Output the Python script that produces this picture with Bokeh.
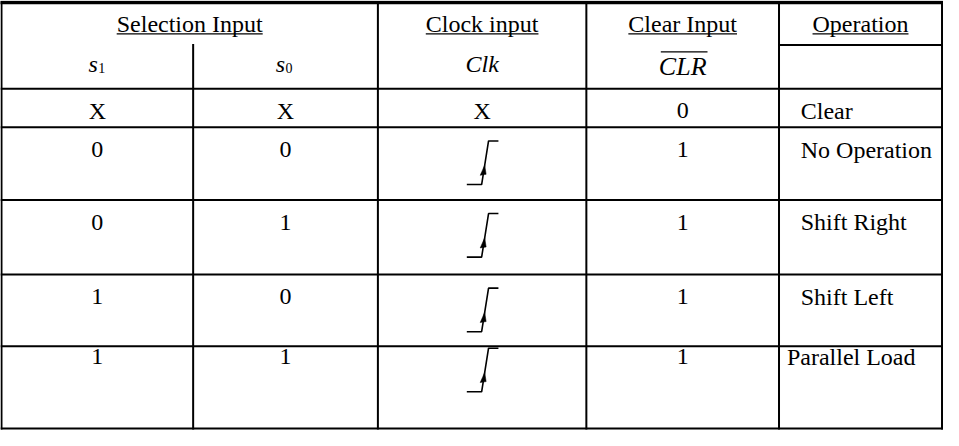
from bokeh.plotting import figure
from bokeh.models import Range1d, ColumnDataSource
from bokeh.embed import file_html
from bokeh.resources import INLINE
from bokeh.core.properties import value

# ---------------- data ----------------
group_headers = ["Selection Input", "Clock input", "Clear Input", "Operation"]
sub_headers = ["s", "s", "Clk", "CLR", ""]
sub_indices = ["1", "0"]
select_s1 = ["X", "0", "0", "1", "1"]
select_s0 = ["X", "0", "1", "0", "1"]
clock_input = ["X", "rise", "rise", "rise", "rise"]
clear_input = ["0", "1", "1", "1", "1"]
operation = ["Clear", "No Operation", "Shift Right", "Shift Left", "Parallel Load"]

# ---------------- layout (reference pixel space) ----------------
col_edges = [5, 199, 386, 597, 792, 957]
top_edge = 4
header_split = 48
row_edges = [93, 133, 208, 285, 359, 444]
row_shift = [0, 0, 0, 0, -12]      # last row content sits higher
op_left = [814, 814, 814, 814, 800]
FONT = value("Liberation Serif")
FS = "24px"
DY = -7                            # baseline correction for text rendering

# Liberation Serif advance widths (em) for header underlines
W = {'S': .556, 'e': .444, 'l': .278, 'c': .444, 't': .278, 'i': .278, 'o': .5,
     'n': .5, ' ': .25, 'I': .333, 'p': .5, 'u': .5, 'C': .667, 'k': .5,
     'a': .444, 'r': .333, 'O': .722}
XS = 943 / (958.5 - 4)   # px per data unit (x)


def text_w(s, size=24):
    return sum(W.get(ch, .5) for ch in s) * size / XS


p = figure(width=943, height=430, x_range=Range1d(4, 958.5), y_range=Range1d(446, 2),
           output_backend="svg", toolbar_location=None, min_border=0)
p.axis.visible = False
p.grid.visible = False
p.outline_line_color = None
p.background_fill_color = "white"
p.border_fill_color = "white"

# ---------------- rules ----------------
hx0, hy0, hx1, hy1 = [], [], [], []
for y in row_edges:
    hx0.append(col_edges[0]); hx1.append(col_edges[-1]); hy0.append(y); hy1.append(y)
hx0.append(col_edges[4]); hx1.append(col_edges[5]); hy0.append(header_split); hy1.append(header_split)
for i, x in enumerate(col_edges):
    y_start = header_split if i == 1 else top_edge
    hx0.append(x); hx1.append(x); hy0.append(y_start); hy1.append(row_edges[-1])
p.segment(hx0, hy0, hx1, hy1, line_color="black", line_width=2, line_cap="square")
p.segment([col_edges[0]], [top_edge], [col_edges[-1]], [top_edge], line_color="black",
          line_width=3.5, line_cap="square")

# ---------------- headers ----------------
group_cx = [(col_edges[0] + col_edges[2]) / 2, (col_edges[2] + col_edges[3]) / 2,
            (col_edges[3] + col_edges[4]) / 2, (col_edges[4] + col_edges[5]) / 2]
p.text(x=group_cx, y=[33 + DY] * 4, text=group_headers, text_font=FONT, text_font_size=FS,
       text_align="center", text_baseline="alphabetic", text_color="black")
ux0 = [c - text_w(t) / 2 for c, t in zip(group_cx, group_headers)]
ux1 = [c + text_w(t) / 2 for c, t in zip(group_cx, group_headers)]
p.segment(ux0, [36.5] * 4, ux1, [36.5] * 4, line_color="black", line_width=1.3)

col_cx = [(col_edges[i] + col_edges[i + 1]) / 2 for i in range(5)]
p.text(x=[col_cx[0] - 9, col_cx[1] - 10], y=[75 + DY] * 2, text=sub_headers[:2], text_font=FONT,
       text_font_size=FS, text_font_style="italic", text_align="left",
       text_baseline="alphabetic", text_color="black")
p.text(x=[col_cx[0] + 1, col_cx[1]], y=[79 + DY] * 2, text=sub_indices, text_font=FONT,
       text_font_size="14px", text_align="left", text_baseline="alphabetic", text_color="black")
p.text(x=[col_cx[2]], y=[75 + DY], text=[sub_headers[2]], text_font=FONT, text_font_size=FS,
       text_font_style="italic", text_align="center", text_baseline="alphabetic",
       text_color="black")
p.text(x=[col_cx[3]], y=[77 + DY], text=[sub_headers[3]], text_font=FONT, text_font_size="26px",
       text_font_style="italic", text_align="center", text_baseline="alphabetic",
       text_color="black")
clr_w = (.667 + .556 + .611) * 26 / XS
p.segment([col_cx[3] - clr_w / 2 + 2], [55], [col_cx[3] + clr_w / 2 + 1], [55],
          line_color="black", line_width=1.3)

# ---------------- body ----------------
base_y = [row_edges[i] + 30 + row_shift[i] + DY for i in range(5)]
src = ColumnDataSource(dict(s1=select_s1, s0=select_s0, clr=clear_input, y=base_y,
                            x1=[col_cx[0]] * 5, x2=[col_cx[1]] * 5, x4=[col_cx[3]] * 5))
for xc, col in (("x1", "s1"), ("x2", "s0"), ("x4", "clr")):
    p.text(x=xc, y="y", text=col, source=src, text_font=FONT, text_font_size=FS,
           text_align="center", text_baseline="alphabetic", text_color="black")
p.text(x=op_left, y=base_y, text=operation, text_font=FONT, text_font_size=FS,
       text_align="left", text_baseline="alphabetic", text_color="black")

cx_, cy_, cxs, cys, axs, ays = [], [], [], [], [], []
for i, c in enumerate(clock_input):
    if c == "X":
        cx_.append(col_cx[2]); cy_.append(base_y[i])
    else:
        T = row_edges[i] + row_shift[i]
        xb0, xb1, xt0, xt1 = 476, 491, 498, 508
        yb, yt = T + 59, T + 14
        cxs.append([xb0, xb1, xt0, xt1]); cys.append([yb, yb, yt, yt])
        ytip, ybase = T + 39, T + 49
        xtip = xb1 + (yb - ytip) / (yb - yt) * (xt0 - xb1)
        xbase = xb1 + (yb - ybase) / (yb - yt) * (xt0 - xb1)
        axs.append([xtip, xbase - 3, xbase + 3]); ays.append([ytip, ybase + 0.5, ybase - 0.5])
p.text(x=cx_, y=cy_, text=["X"] * len(cx_), text_font=FONT, text_font_size=FS,
       text_align="center", text_baseline="alphabetic", text_color="black")
p.multi_line(cxs, cys, line_color="black", line_width=1.6)
p.patches(axs, ays, fill_color="black", line_color="black", line_width=0.5)

open("out.html", "w").write(file_html(p, INLINE))
